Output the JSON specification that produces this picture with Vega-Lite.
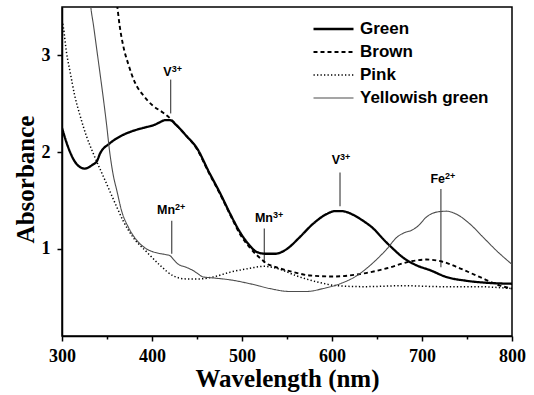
{
  "$schema": "https://vega.github.io/schema/vega-lite/v6.json",
  "width": 450,
  "height": 329,
  "autosize": {"type": "none"},
  "padding": {"left": 62, "top": 7, "right": 22, "bottom": 59},
  "background": "white",
  "datasets": {
    "spectra": [
      {"sample": "Green", "nm": 300, "A": 2.25},
      {"sample": "Green", "nm": 305, "A": 2.1},
      {"sample": "Green", "nm": 309, "A": 2.0},
      {"sample": "Green", "nm": 316, "A": 1.88},
      {"sample": "Green", "nm": 325, "A": 1.83},
      {"sample": "Green", "nm": 334, "A": 1.87},
      {"sample": "Green", "nm": 339, "A": 1.91},
      {"sample": "Green", "nm": 342, "A": 1.98},
      {"sample": "Green", "nm": 353, "A": 2.09},
      {"sample": "Green", "nm": 364, "A": 2.16},
      {"sample": "Green", "nm": 376, "A": 2.21},
      {"sample": "Green", "nm": 390, "A": 2.25},
      {"sample": "Green", "nm": 402, "A": 2.28},
      {"sample": "Green", "nm": 409, "A": 2.31},
      {"sample": "Green", "nm": 414, "A": 2.33},
      {"sample": "Green", "nm": 420, "A": 2.33},
      {"sample": "Green", "nm": 427, "A": 2.28},
      {"sample": "Green", "nm": 438, "A": 2.17},
      {"sample": "Green", "nm": 450, "A": 2.04},
      {"sample": "Green", "nm": 463, "A": 1.8},
      {"sample": "Green", "nm": 476, "A": 1.57},
      {"sample": "Green", "nm": 487, "A": 1.36},
      {"sample": "Green", "nm": 498, "A": 1.17},
      {"sample": "Green", "nm": 509, "A": 1.03},
      {"sample": "Green", "nm": 516, "A": 0.97},
      {"sample": "Green", "nm": 526, "A": 0.95},
      {"sample": "Green", "nm": 537, "A": 0.95},
      {"sample": "Green", "nm": 550, "A": 1.0},
      {"sample": "Green", "nm": 564, "A": 1.12},
      {"sample": "Green", "nm": 579, "A": 1.26},
      {"sample": "Green", "nm": 594, "A": 1.36},
      {"sample": "Green", "nm": 603, "A": 1.39},
      {"sample": "Green", "nm": 611, "A": 1.39},
      {"sample": "Green", "nm": 624, "A": 1.35},
      {"sample": "Green", "nm": 633, "A": 1.3},
      {"sample": "Green", "nm": 646, "A": 1.21},
      {"sample": "Green", "nm": 657, "A": 1.1},
      {"sample": "Green", "nm": 668, "A": 1.0},
      {"sample": "Green", "nm": 679, "A": 0.91},
      {"sample": "Green", "nm": 694, "A": 0.83},
      {"sample": "Green", "nm": 709, "A": 0.78},
      {"sample": "Green", "nm": 727, "A": 0.71},
      {"sample": "Green", "nm": 750, "A": 0.67},
      {"sample": "Green", "nm": 772, "A": 0.65},
      {"sample": "Green", "nm": 800, "A": 0.64},

      {"sample": "Brown", "nm": 355, "A": 3.95},
      {"sample": "Brown", "nm": 361.5, "A": 3.5},
      {"sample": "Brown", "nm": 364, "A": 3.31},
      {"sample": "Brown", "nm": 368, "A": 3.1},
      {"sample": "Brown", "nm": 374, "A": 2.9},
      {"sample": "Brown", "nm": 381, "A": 2.72},
      {"sample": "Brown", "nm": 390, "A": 2.59},
      {"sample": "Brown", "nm": 401, "A": 2.48},
      {"sample": "Brown", "nm": 412, "A": 2.41},
      {"sample": "Brown", "nm": 420, "A": 2.35},
      {"sample": "Brown", "nm": 427, "A": 2.28},
      {"sample": "Brown", "nm": 438, "A": 2.17},
      {"sample": "Brown", "nm": 450, "A": 2.03},
      {"sample": "Brown", "nm": 463, "A": 1.79},
      {"sample": "Brown", "nm": 476, "A": 1.56},
      {"sample": "Brown", "nm": 487, "A": 1.35},
      {"sample": "Brown", "nm": 498, "A": 1.15},
      {"sample": "Brown", "nm": 509, "A": 1.01},
      {"sample": "Brown", "nm": 516, "A": 0.94},
      {"sample": "Brown", "nm": 522, "A": 0.89},
      {"sample": "Brown", "nm": 527, "A": 0.85},
      {"sample": "Brown", "nm": 535, "A": 0.82},
      {"sample": "Brown", "nm": 545, "A": 0.79},
      {"sample": "Brown", "nm": 557, "A": 0.76},
      {"sample": "Brown", "nm": 576, "A": 0.725},
      {"sample": "Brown", "nm": 601, "A": 0.715},
      {"sample": "Brown", "nm": 631, "A": 0.74},
      {"sample": "Brown", "nm": 661, "A": 0.8},
      {"sample": "Brown", "nm": 687, "A": 0.87},
      {"sample": "Brown", "nm": 705, "A": 0.89},
      {"sample": "Brown", "nm": 722, "A": 0.87},
      {"sample": "Brown", "nm": 742, "A": 0.8},
      {"sample": "Brown", "nm": 764, "A": 0.71},
      {"sample": "Brown", "nm": 787, "A": 0.62},
      {"sample": "Brown", "nm": 800, "A": 0.59},

      {"sample": "Pink", "nm": 300, "A": 3.36},
      {"sample": "Pink", "nm": 301.5, "A": 3.29},
      {"sample": "Pink", "nm": 305, "A": 3.03},
      {"sample": "Pink", "nm": 309, "A": 2.83},
      {"sample": "Pink", "nm": 314, "A": 2.59},
      {"sample": "Pink", "nm": 320, "A": 2.38},
      {"sample": "Pink", "nm": 327, "A": 2.17},
      {"sample": "Pink", "nm": 335, "A": 1.98},
      {"sample": "Pink", "nm": 344, "A": 1.79},
      {"sample": "Pink", "nm": 353, "A": 1.6},
      {"sample": "Pink", "nm": 361, "A": 1.43},
      {"sample": "Pink", "nm": 368, "A": 1.29},
      {"sample": "Pink", "nm": 379, "A": 1.12},
      {"sample": "Pink", "nm": 394, "A": 0.97},
      {"sample": "Pink", "nm": 409, "A": 0.83},
      {"sample": "Pink", "nm": 424, "A": 0.72},
      {"sample": "Pink", "nm": 438, "A": 0.69},
      {"sample": "Pink", "nm": 453, "A": 0.69},
      {"sample": "Pink", "nm": 468, "A": 0.71},
      {"sample": "Pink", "nm": 487, "A": 0.76},
      {"sample": "Pink", "nm": 509, "A": 0.8},
      {"sample": "Pink", "nm": 524, "A": 0.82},
      {"sample": "Pink", "nm": 542, "A": 0.79},
      {"sample": "Pink", "nm": 561, "A": 0.72},
      {"sample": "Pink", "nm": 583, "A": 0.66},
      {"sample": "Pink", "nm": 605, "A": 0.62},
      {"sample": "Pink", "nm": 635, "A": 0.61},
      {"sample": "Pink", "nm": 680, "A": 0.62},
      {"sample": "Pink", "nm": 720, "A": 0.61},
      {"sample": "Pink", "nm": 760, "A": 0.61},
      {"sample": "Pink", "nm": 800, "A": 0.59},

      {"sample": "Yellowish green", "nm": 328, "A": 3.95},
      {"sample": "Yellowish green", "nm": 332, "A": 3.5},
      {"sample": "Yellowish green", "nm": 335, "A": 3.31},
      {"sample": "Yellowish green", "nm": 338.5, "A": 3.07},
      {"sample": "Yellowish green", "nm": 342, "A": 2.83},
      {"sample": "Yellowish green", "nm": 346, "A": 2.55},
      {"sample": "Yellowish green", "nm": 349.6, "A": 2.28},
      {"sample": "Yellowish green", "nm": 353, "A": 2.0},
      {"sample": "Yellowish green", "nm": 355, "A": 1.87},
      {"sample": "Yellowish green", "nm": 357, "A": 1.76},
      {"sample": "Yellowish green", "nm": 361, "A": 1.6},
      {"sample": "Yellowish green", "nm": 366, "A": 1.4},
      {"sample": "Yellowish green", "nm": 374, "A": 1.22},
      {"sample": "Yellowish green", "nm": 383, "A": 1.09},
      {"sample": "Yellowish green", "nm": 394, "A": 1.0},
      {"sample": "Yellowish green", "nm": 405, "A": 0.96},
      {"sample": "Yellowish green", "nm": 416, "A": 0.94},
      {"sample": "Yellowish green", "nm": 420, "A": 0.93},
      {"sample": "Yellowish green", "nm": 424, "A": 0.89},
      {"sample": "Yellowish green", "nm": 428, "A": 0.85},
      {"sample": "Yellowish green", "nm": 438, "A": 0.81},
      {"sample": "Yellowish green", "nm": 445, "A": 0.78},
      {"sample": "Yellowish green", "nm": 450, "A": 0.75},
      {"sample": "Yellowish green", "nm": 457, "A": 0.71},
      {"sample": "Yellowish green", "nm": 468, "A": 0.7},
      {"sample": "Yellowish green", "nm": 487, "A": 0.68},
      {"sample": "Yellowish green", "nm": 509, "A": 0.64},
      {"sample": "Yellowish green", "nm": 531, "A": 0.59},
      {"sample": "Yellowish green", "nm": 553, "A": 0.56},
      {"sample": "Yellowish green", "nm": 572, "A": 0.56},
      {"sample": "Yellowish green", "nm": 590, "A": 0.59},
      {"sample": "Yellowish green", "nm": 609, "A": 0.64},
      {"sample": "Yellowish green", "nm": 627, "A": 0.72},
      {"sample": "Yellowish green", "nm": 646, "A": 0.86},
      {"sample": "Yellowish green", "nm": 661, "A": 1.0},
      {"sample": "Yellowish green", "nm": 672, "A": 1.12},
      {"sample": "Yellowish green", "nm": 681, "A": 1.17},
      {"sample": "Yellowish green", "nm": 688, "A": 1.19},
      {"sample": "Yellowish green", "nm": 696, "A": 1.24},
      {"sample": "Yellowish green", "nm": 705, "A": 1.33},
      {"sample": "Yellowish green", "nm": 716, "A": 1.38},
      {"sample": "Yellowish green", "nm": 727, "A": 1.39},
      {"sample": "Yellowish green", "nm": 738, "A": 1.36},
      {"sample": "Yellowish green", "nm": 753, "A": 1.26},
      {"sample": "Yellowish green", "nm": 768, "A": 1.12},
      {"sample": "Yellowish green", "nm": 783, "A": 0.98},
      {"sample": "Yellowish green", "nm": 800, "A": 0.84}
    ],
    "marks": [
      {"ion": "V", "sup": "3+", "nm": 420.7, "y1": 2.75, "y2": 2.4, "lx": 421.9, "ly": 2.79},
      {"ion": "V", "sup": "3+", "nm": 608.9, "y1": 1.79, "y2": 1.44, "lx": 608.9, "ly": 1.88},
      {"ion": "Fe", "sup": "2+", "nm": 721, "y1": 1.62, "y2": 0.81, "lx": 725.6, "ly": 1.68},
      {"ion": "Mn", "sup": "2+", "nm": 421.9, "y1": 1.29, "y2": 0.95, "lx": 425.6, "ly": 1.36},
      {"ion": "Mn", "sup": "3+", "nm": 524.8, "y1": 1.21, "y2": 0.86, "lx": 534.4, "ly": 1.28}
    ]
  },
  "layer": [
    {
      "data": {"name": "marks"},
      "mark": {"type": "rule", "color": "#555555", "strokeWidth": 1.3},
      "encoding": {
        "x": {"field": "nm", "type": "quantitative"},
        "y": {"field": "y1", "type": "quantitative"},
        "y2": {"field": "y2"}
      }
    },
    {
      "data": {"name": "marks"},
      "mark": {"type": "text", "font": "Liberation Sans", "fontWeight": "bold", "fontSize": 12.5, "color": "black", "align": "right", "baseline": "alphabetic"},
      "encoding": {
        "x": {"field": "lx", "type": "quantitative"},
        "y": {"field": "ly", "type": "quantitative"},
        "text": {"field": "ion"}
      }
    },
    {
      "data": {"name": "marks"},
      "mark": {"type": "text", "font": "Liberation Sans", "fontWeight": "bold", "fontSize": 9, "color": "black", "align": "left", "baseline": "alphabetic", "dy": -4},
      "encoding": {
        "x": {"field": "lx", "type": "quantitative"},
        "y": {"field": "ly", "type": "quantitative"},
        "text": {"field": "sup"}
      }
    },
    {
      "data": {"name": "spectra"},
      "mark": {"type": "line", "clip": true, "interpolate": "monotone"},
      "encoding": {
        "x": {
          "field": "nm", "type": "quantitative",
          "scale": {"domain": [300, 800], "nice": false, "zero": false},
          "axis": {
            "title": "Wavelength (nm)",
            "values": [300, 350, 400, 450, 500, 550, 600, 650, 700, 750, 800],
            "labelExpr": "datum.value % 100 == 0 ? datum.label : ''",
            "tickSize": {"condition": {"test": "datum.value % 100 != 0", "value": 3}, "value": 5},
            "labelPadding": 6,
            "titleY": 50,
            "titleBaseline": "alphabetic"
          }
        },
        "y": {
          "field": "A", "type": "quantitative",
          "scale": {"domain": [0.1, 3.5], "nice": false, "zero": false},
          "axis": {
            "title": "Absorbance",
            "values": [1, 2, 3],
            "format": "d",
            "tickSize": 5,
            "labelPadding": 7,
            "titleX": -29,
            "titleY": 172,
            "titleBaseline": "alphabetic",
            "titleAlign": "center"
          }
        },
        "color": {
          "field": "sample", "type": "nominal",
          "scale": {"domain": ["Green", "Brown", "Pink", "Yellowish green"], "range": ["black", "black", "black", "#4d4d4d"]},
          "legend": {
            "title": null,
            "encode": {
              "symbols": {
                "update": {
                  "strokeDash": {"signal": "scale('strokeDash', datum.value)"},
                  "strokeWidth": {"signal": "scale('strokeWidth', datum.value)"}
                }
              },
              "labels": {
                "update": {
                  "fontWeight": {"value": "bold"},
                  "fill": {"value": "black"}
                }
              }
            }
          }
        },
        "strokeDash": {
          "field": "sample", "type": "nominal",
          "scale": {"domain": ["Green", "Brown", "Pink", "Yellowish green"], "range": [[1, 0], [4, 3], [1.3, 2.2], [1, 0]]},
          "legend": null
        },
        "strokeWidth": {
          "field": "sample", "type": "nominal",
          "scale": {"domain": ["Green", "Brown", "Pink", "Yellowish green"], "range": [2.3, 1.1, 1.4, 0.9]},
          "legend": null
        }
      }
    }
  ],
  "config": {
    "view": {"stroke": "black", "strokeWidth": 1.5},
    "axis": {
      "grid": false,
      "domainColor": "black",
      "domainWidth": 1.5,
      "tickColor": "black",
      "tickWidth": 1.5,
      "labelFont": "Liberation Serif",
      "labelFontWeight": "bold",
      "labelFontSize": 18,
      "labelColor": "black",
      "labelFlush": false,
      "labelOverlap": false,
      "titleFont": "Liberation Serif",
      "titleFontWeight": "bold",
      "titleFontSize": 25,
      "titleColor": "black"
    },
    "legend": {
      "orient": "none",
      "legendX": 250,
      "legendY": 13,
      "symbolType": "stroke",
      "symbolSize": 1600,
      "clipHeight": 18,
      "labelFont": "Liberation Sans",
      "labelFontWeight": "bold",
      "labelFontSize": 17,
      "labelColor": "black",
      "labelOffset": 5,
      "rowPadding": 5
    }
  }
}
